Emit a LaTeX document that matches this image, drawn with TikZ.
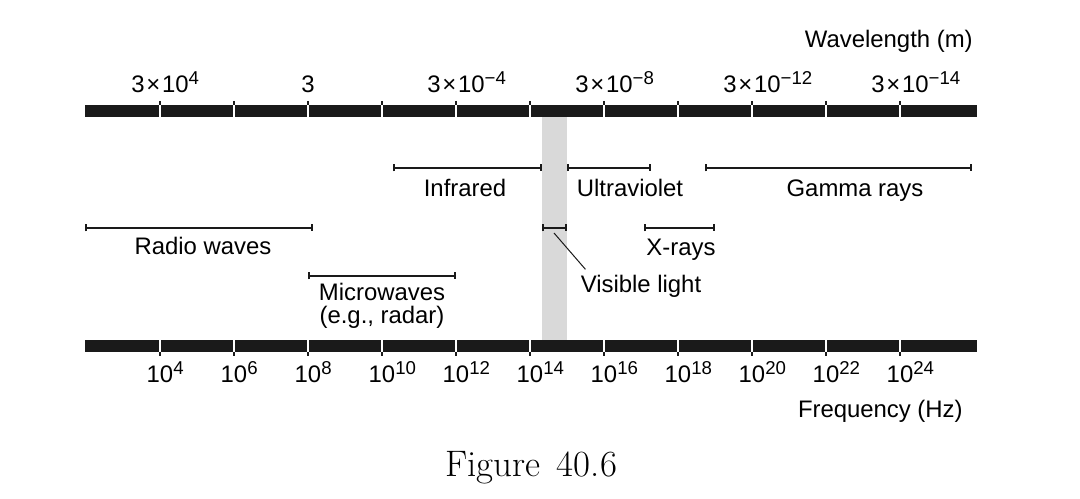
\documentclass[tikz,border=0pt]{standalone}
\usepackage{fontspec}
\newfontfamily\labelfont{Liberation Sans}
\usetikzlibrary{arrows.meta}
\definecolor{barblack}{HTML}{1A1A1A}
\definecolor{bandgray}{HTML}{D9D9D9}
\newcommand{\expo}[1]{\rlap{\raisebox{0.36em}{\fontsize{10.6}{11}\selectfont #1}}}
\newcommand{\tms}{\kern1pt×\kern1pt}
\begin{document}
\begin{tikzpicture}[x=0.02cm, y=-0.02cm,
    every node/.style={font=\labelfont\fontsize{13.6}{13}\selectfont, inner sep=0pt},
    spanline/.style={{Bar[width=0.14cm]}-{Bar[width=0.14cm]}, line width=0.04cm, barblack},
    gapline/.style={white, line width=0.04cm},
    tickmark/.style={barblack, line width=0.04cm}]
      \useasboundingbox (0,0) rectangle (1080,499);

      % Visible band
      \fill[bandgray] (542,117) rectangle (567,340);

      % Scales
      \fill[barblack] (85,105) rectangle (977,117);
      \fill[barblack] (85,340) rectangle (977,352);
      \foreach \x in {160,234,...,900} {
        \draw[gapline] (\x,105) -- (\x,117);
        \draw[tickmark] (\x,101) -- (\x,105);
        \draw[gapline] (\x,340) -- (\x,352);
        \draw[tickmark] (\x,352) -- (\x,356);
      }

      % Wavelength labels
      \foreach \x/\t in {160/{3\tms10\expo{4}}, 308/3, 456/{3\tms10\expo{−4}},
                         604/{3\tms10\expo{−8}}, 752/{3\tms10\expo{−12}}, 900/{3\tms10\expo{−14}}}
        \node[anchor=base] (wl\x) at (\x,93) {\t};
      \node[anchor=base east] (wlunit) at (973,48) {Wavelength (m)};

      % Frequency labels
      \foreach \x/\e in {160/4, 234/6, 308/8, 382/10, 456/12, 530/14,
                         604/16, 678/18, 752/20, 826/22, 900/24}
        \node[anchor=base] (fr\x) at (\x,383) {10\expo{\e}};
      \node[anchor=base east] (frunit) at (963,418) {Frequency (Hz)};

      % Ranges
      \coordinate (ir-l) at (393,168);
      \coordinate (ir-r) at (542,168);
      \coordinate (uv-l) at (567,168);
      \coordinate (uv-r) at (651,168);
      \coordinate (gamma-l) at (705,168);
      \coordinate (gamma-r) at (972,168);
      \coordinate (radio-l) at (85,228);
      \coordinate (radio-r) at (313,228);
      \coordinate (vis-l) at (542,228);
      \coordinate (vis-r) at (567,228);
      \coordinate (xray-l) at (644,228);
      \coordinate (xray-r) at (715,228);
      \coordinate (micro-l) at (308,276);
      \coordinate (micro-r) at (456,276);
      \coordinate (vis-tip) at (554,233);

      \draw[spanline] (ir-l) -- (ir-r);
      \draw[spanline] (uv-l) -- (uv-r);
      \draw[spanline] (gamma-l) -- (gamma-r);
      \draw[spanline] (radio-l) -- (radio-r);
      \draw[spanline] (vis-l) -- (vis-r);
      \draw[spanline] (xray-l) -- (xray-r);
      \draw[spanline] (micro-l) -- (micro-r);

      \node[anchor=base] (ir) at (465,197) {Infrared};
      \node[anchor=base] (uv) at (630,197) {Ultraviolet};
      \node[anchor=base] (gamma) at (855,197) {Gamma rays};
      \node[anchor=base] (radio) at (203,255) {Radio waves};
      \node[anchor=base] (xray) at (681,256) {X-rays};
      \node[anchor=north, align=center] (micro) at (382,283) {Microwaves\\(e.g., radar)};
      \node[anchor=base] (vis) at (641,293) {Visible light};
      \draw[barblack, line width=0.02cm] (vis-tip) -- ([xshift=0.1cm, yshift=0.12cm]vis.north west);

      % Caption
      \node[font=\fontsize{21}{25}\selectfont, anchor=base] (caption) at (531,477) {Figure\hspace{0.45em}40.6};
    \end{tikzpicture}
\end{document}
